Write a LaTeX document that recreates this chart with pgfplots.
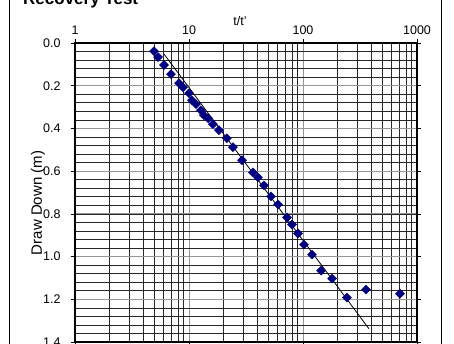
\documentclass[border=0pt]{standalone}
\usepackage{pgfplots}
\pgfplotsset{compat=1.18}
\usepackage{fontspec}
\setmainfont{Liberation Sans}
\definecolor{navy}{RGB}{0,0,128}
\definecolor{majgrid}{RGB}{150,150,150}

\begin{document}
\begin{tikzpicture}[x=1pt,y=1pt]
\useasboundingbox (0,0) rectangle (454,344);
\clip (0,0) rectangle (454,344);
% outer chart frame
\draw[black, line width=0.8pt] (9,-20) rectangle (441,364);
\begin{axis}[
  at={(75pt,2pt)}, anchor=south west,
  scale only axis, width=342pt, height=299pt,
  xmode=log, xmin=1, xmax=1000,
  ymin=0, ymax=1.4, y dir=reverse,
  xticklabel pos=upper,
  log ticks with fixed point,
  /pgf/number format/1000 sep={},
  xtick={1,10,100,1000},
  ytick={0,0.2,...,1.4},
  minor ytick={0.04,0.08,...,1.4},
  yticklabel style={/pgf/number format/fixed, /pgf/number format/fixed zerofill, /pgf/number format/precision=1, xshift=-7pt},
  /pgf/number format/assume math mode=true,
  tick align=outside, major tick length=4pt, minor tick length=0pt,
  tick style={black, line width=0.6pt},
  ticklabel style={font=\fontsize{12.5}{14}\selectfont},
  xticklabel style={yshift=1pt},
  grid=both,
  major grid style={majgrid, line width=0.9pt},
  minor grid style={black!85, line width=0.6pt},
  axis line style={black, line width=1.3pt},
  clip=false,
]
\addplot[only marks, mark=square*, mark size=3.2pt,
  mark options={rotate=45, fill=navy, draw=navy}]
coordinates {
(4.93,0.038) (5.35,0.066) (6.04,0.103) (6.95,0.146) (8.17,0.188)
(8.86,0.207) (10.0,0.235) (10.6,0.268) (11.5,0.286) (12.7,0.315)
(13.5,0.338) (14.7,0.352) (16.2,0.380) (18.3,0.408) (21.5,0.446)
(24.3,0.488) (29.2,0.549) (36.4,0.606) (40.3,0.629) (45.5,0.667)
(52.4,0.718) (60.4,0.756) (72.4,0.817) (80.1,0.850) (90.4,0.892)
(102,0.944) (120,0.991) (144,1.066) (180,1.103) (243,1.192)
(357,1.155) (709,1.174)
};
\addplot[black, line width=0.8pt, no marks]
coordinates {(6.04,0.052) (379,1.338)};
\end{axis}
\node[font=\fontsize{17}{19}\selectfont\bfseries, anchor=base west, inner sep=0pt] at (23,339) {Recovery Test};
\node[font=\fontsize{12.5}{14}\selectfont] at (240,323) {t/t'};
\node[font=\fontsize{15}{17}\selectfont, rotate=90] at (38,141) {Draw Down (m)};
\end{tikzpicture}
\end{document}
